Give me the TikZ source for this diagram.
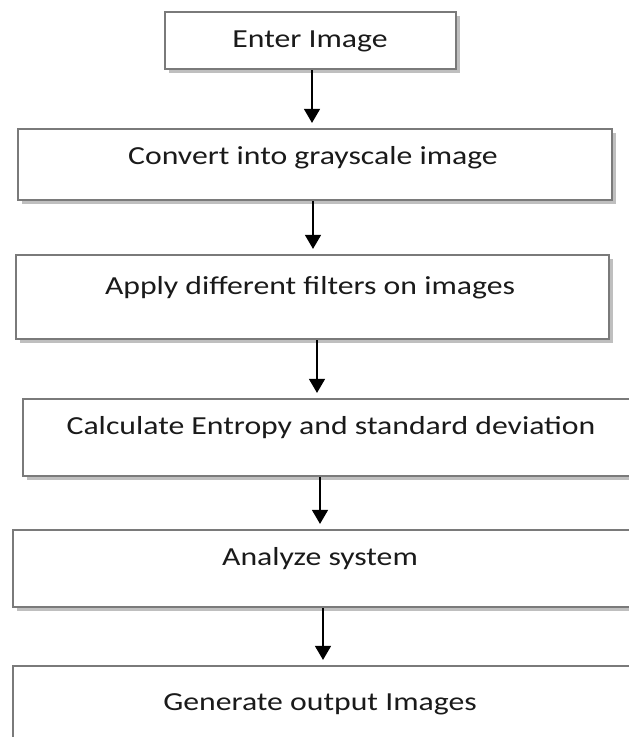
\documentclass[tikz,border=0pt]{standalone}
\usepackage{fontspec}
\setmainfont{Carlito}[FakeStretch=1.22]
\usetikzlibrary{arrows.meta,shadows,fit}
\definecolor{boxline}{HTML}{7A7A7A}
\definecolor{txtcol}{HTML}{1A1A1A}
\tikzset{
  flowbox/.style={draw=boxline, line width=2.2pt, fill=white, inner sep=0pt,
    drop shadow={shadow xshift=3.5pt, shadow yshift=-3.5pt, opacity=0.45, fill=black!55}},
  flowtxt/.style={anchor=base, inner sep=0pt, text=txtcol,
    font=\fontsize{26}{30}\selectfont},
  flowarr/.style={draw=black, line width=1.3pt, -{Triangle[width=16pt,length=14pt]}}
}
\begin{document}
\begin{tikzpicture}[x=1pt,y=-1pt]
\useasboundingbox (0,0) rectangle (629,737);
\clip (0,0) rectangle (629,737);
\fill[white] (0,0) rectangle (629,737);
% boxes
\node[flowbox, fit={(165,12) (456,69)}] (b1) {};
\node[flowbox, fit={(18,129) (612,200)}] (b2) {};
\node[flowbox, fit={(16,255) (609,339)}] (b3) {};
\node[flowbox, fit={(23,399) (645,476)}] (b4) {};
\node[flowbox, fit={(13,530) (645,607)}] (b5) {};
\node[flowbox, fit={(13,666) (645,770)}] (b6) {};
% texts
\node[flowtxt] (t1) at (310,47) {Enter Image};
\node[flowtxt] (t2) at (313,164) {Convert into grayscale image};
\node[flowtxt] (t3) at (310,294) {Apply different filters on images};
\node[flowtxt] (t4) at (331,434) {Calculate Entropy and standard deviation};
\node[flowtxt] (t5) at (320,565) {Analyze system};
\node[flowtxt] (t6) at (320,710) {Generate output Images};
% arrow columns
\coordinate (c1) at (312,0);
\coordinate (c2) at (313,0);
\coordinate (c3) at (317,0);
\coordinate (c4) at (320,0);
\coordinate (c5) at (323,0);
% arrows
\draw[flowarr] (b1.south -| c1) -- ([yshift=5pt]b2.north -| c1);
\draw[flowarr] (b2.south -| c2) -- ([yshift=5pt]b3.north -| c2);
\draw[flowarr] (b3.south -| c3) -- ([yshift=5pt]b4.north -| c3);
\draw[flowarr] (b4.south -| c4) -- ([yshift=5pt]b5.north -| c4);
\draw[flowarr] (b5.south -| c5) -- ([yshift=5pt]b6.north -| c5);
\end{tikzpicture}
\end{document}
